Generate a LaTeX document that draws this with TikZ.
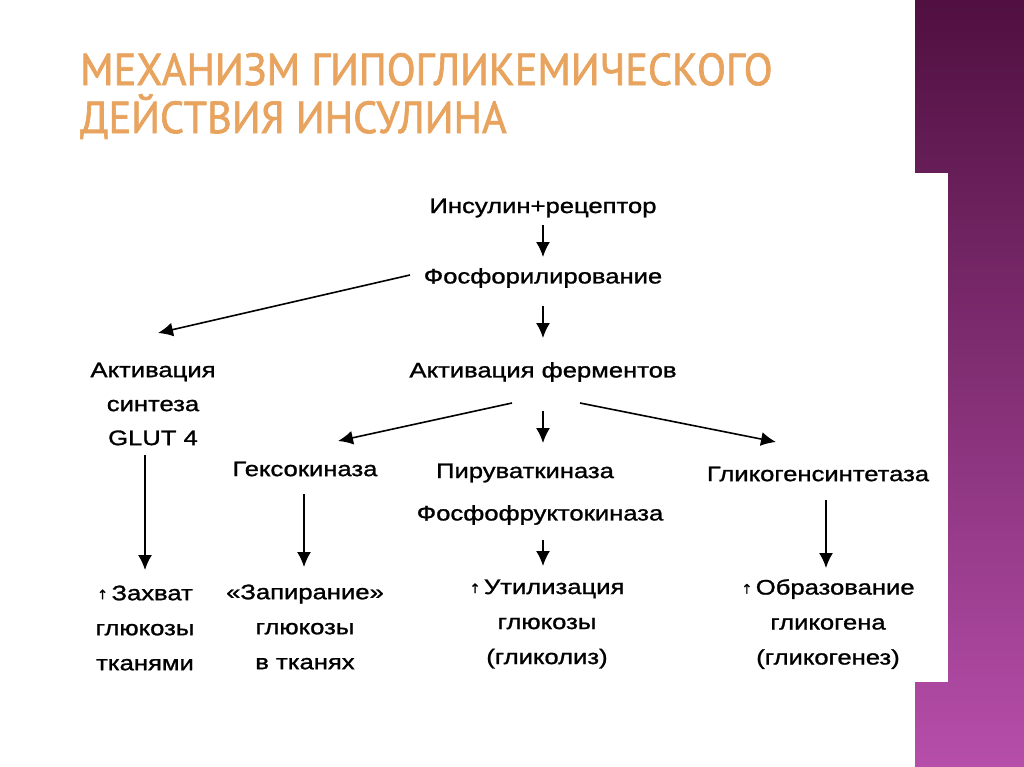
\documentclass[tikz,border=0pt]{standalone}
\usepackage{fontspec}
\setmainfont{Liberation Sans}[FakeStretch=1.22, FakeBold=1.2]
\newfontfamily\titlefont{PT Sans}[FakeStretch=0.94, FakeBold=1.5]
\newfontfamily\uparrowfont{DejaVu Sans}[FakeBold=1.5]
\usepackage{xcolor}
\definecolor{titleorange}{RGB}{232,164,94}
\definecolor{plumtop}{RGB}{80,16,64}
\definecolor{plumbot}{RGB}{182,78,170}
\usetikzlibrary{positioning, calc, arrows.meta}
\tikzstyle{Arrow} = [
line width=1.6pt,
-{Latex[length=15pt,width=14pt]}]
\tikzstyle{Label} = [
font=\fontsize{21}{35}\selectfont,
align=center, inner sep=0pt]
\newcommand{\up}{{\uparrowfont\fontsize{13}{13}\selectfont\raisebox{1pt}{↑}}\,}

\begin{document}
\begin{tikzpicture}[x=1pt, y=-1pt]
        \useasboundingbox (0,0) rectangle (1024,767);
        \fill[white] (0,0) rectangle (1024,767);
        \shade[top color=plumtop, bottom color=plumbot] (915,0) rectangle (1024,767);
        \fill[white] (0,173) rectangle (948,682);

        \node [anchor=west, align=left, inner sep=0pt, text=titleorange,
               font=\titlefont\fontsize{45}{48}\selectfont] (0) at (80,96)
               {МЕХАНИЗМ ГИПОГЛИКЕМИЧЕСКОГО\\ДЕЙСТВИЯ ИНСУЛИНА};

        \node [Label] (1) at (543,208) {Инсулин+рецептор};
        \node [Label] (2) at (543,278) {Фосфорилирование};
        \node [Label] (3) at (543,372) {Активация ферментов};
        \node [Label, font=\fontsize{21}{34}\selectfont] (4) at (153,404) {Активация\\синтеза\\GLUT 4};
        \node [Label] (5) at (305,469) {Гексокиназа};
        \node [Label] (6) at (525,473) {Пируваткиназа};
        \node [Label] (7) at (540,515) {Фосфофруктокиназа};
        \node [Label] (8) at (818,474) {Гликогенсинтетаза};
        \node [Label] (9) at (145,628) {\up Захват\\глюкозы\\тканями};
        \node [Label] (10) at (305,627) {«Запирание»\\глюкозы\\в тканях};
        \node [Label] (11) at (547,624) {\up Утилизация\\глюкозы\\(гликолиз)};
        \node [Label] (12) at (828,624) {\up Образование\\гликогена\\(гликогенез)};

        \draw[Arrow] ([shift={(0,17)}]1.center) -- ([shift={(0,-21)}]2.center);
        \draw[Arrow] ([shift={(0,28)}]2.center) -- ([shift={(0,-34)}]3.center);
        \draw[Arrow] ([shift={(-133,-3)}]2.center) -- ([shift={(5,-71)}]4.center);
        \draw[Arrow] ([shift={(-31,31)}]3.center) -- ([shift={(33,-28)}]5.center);
        \draw[Arrow] ([shift={(0,39)}]3.center) -- ([shift={(18,-30)}]6.center);
        \draw[Arrow] ([shift={(37,31)}]3.center) -- ([shift={(-42,-32)}]8.center);
        \draw[Arrow] ([shift={(-8,51)}]4.center) -- ([shift={(0,-58)}]9.center);
        \draw[Arrow] ([shift={(-1,25)}]5.center) -- ([shift={(-1,-60)}]10.center);
        \draw[Arrow] ([shift={(3,25)}]7.center) -- ([shift={(-4,-58)}]11.center);
        \draw[Arrow] ([shift={(8,26)}]8.center) -- ([shift={(-2,-56)}]12.center);
    \end{tikzpicture}
\end{document}
